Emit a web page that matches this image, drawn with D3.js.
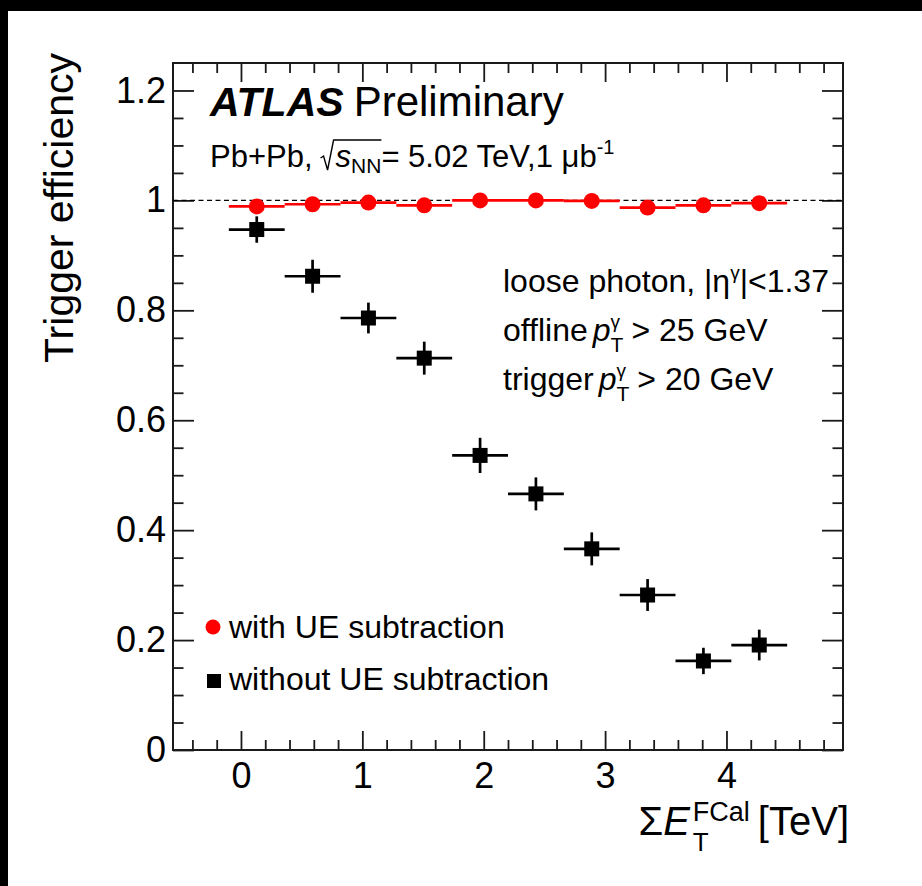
<!DOCTYPE html>
<html><head><meta charset="utf-8">
<script src="https://cdn.jsdelivr.net/npm/d3@7"></script>
<style>
body{margin:0;background:#fff;}
svg{display:block;}
text{font-family:"Liberation Sans",Arial,Helvetica,sans-serif;fill:#000;}
</style>
</head><body>
<svg id="c" width="922" height="886"></svg>
<script>
// ---- data ----
const binEdges = [-0.10, 0.36, 0.82, 1.28, 1.74, 2.20, 2.66, 3.12, 3.58, 4.04, 4.50];
const binCenters = [0.13, 0.59, 1.05, 1.51, 1.97, 2.43, 2.89, 3.35, 3.81, 4.27];
const withUE = [0.989, 0.993, 0.996, 0.991, 1.000, 1.000, 0.999, 0.987, 0.991, 0.995];
const withUEErr = [0.004, 0.004, 0.004, 0.004, 0.003, 0.003, 0.003, 0.004, 0.004, 0.004];
const withoutUE = [0.947, 0.862, 0.786, 0.713, 0.536, 0.466, 0.366, 0.282, 0.162, 0.191];
const withoutUEErr = [0.024, 0.030, 0.028, 0.030, 0.032, 0.030, 0.030, 0.029, 0.024, 0.028];
const xTicks = [0, 1, 2, 3, 4];
const xTickLabels = ["0", "1", "2", "3", "4"];
const yTicks = [0, 0.2, 0.4, 0.6, 0.8, 1.0, 1.2];
const yTickLabels = ["0", "0.2", "0.4", "0.6", "0.8", "1", "1.2"];
const legendLabels = ["with UE subtraction", "without UE subtraction"];
const colors = {withUE: "#ff0000", withoutUE: "#000000"};

// ---- layout ----
const svg = d3.select("#c");
svg.append("rect").attr("width", 922).attr("height", 886).attr("fill", "#fff");
svg.append("rect").attr("x", 0).attr("y", 0).attr("width", 922).attr("height", 11).attr("fill", "#000");
svg.append("rect").attr("x", 0).attr("y", 0).attr("width", 8).attr("height", 886).attr("fill", "#000");

const L = 173, R = 843, T = 63, B = 750;
const x = d3.scaleLinear().domain([-0.56, 4.96]).range([L, R]);
const y = d3.scaleLinear().domain([0, 1.25]).range([B, T]);

const axisColor = "#1a1a1a";
function styleAxis(g, fs) {
  g.select(".domain").remove();
  g.selectAll("line").attr("stroke", axisColor).attr("stroke-width", 1.8);
  g.selectAll("text").attr("font-size", fs).attr("font-family", '"Liberation Sans",Arial,sans-serif').attr("fill", "#000");
}
const xMinor = d3.range(-2, 25).filter(i => i % 5 !== 0).map(i => i * 0.2);
const yMinor = d3.range(1, 25).filter(i => i % 4 !== 0).map(i => i * 0.05);

// bottom
svg.append("g").attr("transform", `translate(0,${B})`)
  .call(d3.axisBottom(x).tickValues(xTicks).tickFormat((d, i) => xTickLabels[i]).tickSize(-19).tickPadding(12))
  .call(g => styleAxis(g, 36));
svg.append("g").attr("transform", `translate(0,${B})`)
  .call(d3.axisBottom(x).tickValues(xMinor).tickFormat("").tickSize(-10))
  .call(g => styleAxis(g, 36));
// top
svg.append("g").attr("transform", `translate(0,${T})`)
  .call(d3.axisTop(x).tickValues(xTicks).tickFormat("").tickSize(-19))
  .call(g => styleAxis(g, 36));
svg.append("g").attr("transform", `translate(0,${T})`)
  .call(d3.axisTop(x).tickValues(xMinor).tickFormat("").tickSize(-10))
  .call(g => styleAxis(g, 36));
// left
svg.append("g").attr("transform", `translate(${L},0)`)
  .call(d3.axisLeft(y).tickValues(yTicks).tickFormat((d, i) => yTickLabels[i]).tickSize(-21).tickPadding(7))
  .call(g => styleAxis(g, 36));
svg.append("g").attr("transform", `translate(${L},0)`)
  .call(d3.axisLeft(y).tickValues(yMinor).tickFormat("").tickSize(-10.5))
  .call(g => styleAxis(g, 36));
// right
svg.append("g").attr("transform", `translate(${R},0)`)
  .call(d3.axisRight(y).tickValues(yTicks).tickFormat("").tickSize(-21))
  .call(g => styleAxis(g, 36));
svg.append("g").attr("transform", `translate(${R},0)`)
  .call(d3.axisRight(y).tickValues(yMinor).tickFormat("").tickSize(-10.5))
  .call(g => styleAxis(g, 36));

// frame
svg.append("rect").attr("x", L).attr("y", T).attr("width", R - L).attr("height", B - T)
  .attr("fill", "none").attr("stroke", axisColor).attr("stroke-width", 2);

// dashed line at 1
svg.append("line").attr("x1", L).attr("x2", R).attr("y1", y(1)).attr("y2", y(1))
  .attr("stroke", "#000").attr("stroke-width", 1.3).attr("stroke-dasharray", "5,3.5");

// ---- data marks ----
const ptsW = binCenters.map((c, i) => ({c, lo: binEdges[i], hi: binEdges[i + 1], v: withUE[i], e: withUEErr[i]}));
const ptsWO = binCenters.map((c, i) => ({c, lo: binEdges[i], hi: binEdges[i + 1], v: withoutUE[i], e: withoutUEErr[i]}));

function drawSeries(pts, color, shape) {
  const g = svg.append("g");
  g.selectAll(".h").data(pts).join("line")
    .attr("x1", d => x(d.lo)).attr("x2", d => x(d.hi))
    .attr("y1", d => y(d.v)).attr("y2", d => y(d.v))
    .attr("stroke", color).attr("stroke-width", 2.7);
  g.selectAll(".v").data(pts).join("line")
    .attr("x1", d => x(d.c)).attr("x2", d => x(d.c))
    .attr("y1", d => y(d.v - d.e)).attr("y2", d => y(d.v + d.e))
    .attr("stroke", color).attr("stroke-width", 2.7);
  if (shape === "circle") {
    g.selectAll("circle").data(pts).join("circle")
      .attr("cx", d => x(d.c)).attr("cy", d => y(d.v)).attr("r", 8).attr("fill", color);
  } else {
    g.selectAll("rect").data(pts).join("rect")
      .attr("x", d => x(d.c) - 7.5).attr("y", d => y(d.v) - 7.5)
      .attr("width", 15).attr("height", 15).attr("fill", color);
  }
}
drawSeries(ptsWO, colors.withoutUE, "square");
drawSeries(ptsW, colors.withUE, "circle");

// ---- rich text helper ----
function rich(px, py, parts, anchorEnd) {
  const grp = svg.append("g");
  let cx = 0;
  const marks = {};
  function addText(q, xx) {
    const t = grp.append("text").attr("x", xx).attr("y", q.dy || 0)
      .attr("font-size", q.size || 31)
      .attr("font-style", q.italic ? "italic" : null)
      .attr("font-weight", q.bold ? "bold" : null)
      .text(q.t);
    return t.node().getComputedTextLength();
  }
  parts.forEach(p => {
    if (p.mark) marks[p.mark] = cx;
    if (p.space !== undefined) { cx += p.space; return; }
    if (p.stack) {
      let w = 0;
      p.stack.forEach(q => { w = Math.max(w, addText(q, cx)); });
      cx += w + (p.gap || 0);
    } else {
      cx += addText(p, cx) + (p.gap || 0);
    }
    if (p.markAfter) marks[p.markAfter] = cx;
  });
  grp.attr("transform", `translate(${anchorEnd ? px - cx : px},${py})`);
  return {grp, marks};
}

// ATLAS Preliminary
rich(210, 116, [
  {t: "ATLAS", size: 41, bold: true, italic: true, gap: 10},
  {t: "Preliminary", size: 42}
]);

// Pb+Pb line with radical
const pb = rich(210, 167, [
  {t: "Pb+Pb,", size: 31, gap: 6},
  {space: 17, mark: "r0"},
  {t: "s", size: 31, italic: true},
  {t: "NN", size: 21, dy: 6, markAfter: "r1"},
  {t: "= 5.02 TeV,1 \u03bcb", size: 31},
  {t: "-1", size: 20, dy: -13}
]);
{
  const r0 = pb.marks.r0, r1 = pb.marks.r1;
  pb.grp.append("path")
    .attr("d", `M${r0 + 2},-9 L${r0 + 5},-11 L${r0 + 9},3 L${r0 + 15},-27 L${r1},-27`)
    .attr("fill", "none").attr("stroke", "#000").attr("stroke-width", 1.4);
}

// selection text
rich(503, 292, [
  {t: "loose photon, |\u03b7", size: 32},
  {t: "\u03b3", size: 19, dy: -13},
  {t: "|<1.37", size: 32}
]);
rich(503, 341, [
  {t: "offline", size: 32, gap: 5},
  {t: "p", size: 32, italic: true},
  {stack: [{t: "\u03b3", size: 19, dy: -13}, {t: "T", size: 21, dy: 11}], gap: 8},
  {t: "> 25 GeV", size: 32}
]);
rich(503, 390, [
  {t: "trigger", size: 32, gap: 5},
  {t: "p", size: 32, italic: true},
  {stack: [{t: "\u03b3", size: 19, dy: -13}, {t: "T", size: 21, dy: 11}], gap: 8},
  {t: "> 20 GeV", size: 32}
]);

// legend
svg.append("circle").attr("cx", 213).attr("cy", 627).attr("r", 7.5).attr("fill", colors.withUE);
svg.append("rect").attr("x", 207).attr("y", 674).attr("width", 14).attr("height", 14).attr("fill", colors.withoutUE);
svg.append("text").attr("x", 229).attr("y", 638).attr("font-size", 32).text(legendLabels[0]);
svg.append("text").attr("x", 229).attr("y", 690).attr("font-size", 32).text(legendLabels[1]);

// axis titles
svg.append("text").attr("transform", "translate(73,53) rotate(-90)")
  .attr("text-anchor", "end").attr("font-size", 41).text("Trigger efficiency");
rich(849, 835, [
  {t: "\u03a3", size: 40},
  {t: "E", size: 40, italic: true, gap: 3},
  {stack: [{t: "FCal", size: 27, dy: -14}, {t: "T", size: 26, dy: 16}], gap: 8},
  {t: "[TeV]", size: 40}
], true);
</script>
</body></html>
